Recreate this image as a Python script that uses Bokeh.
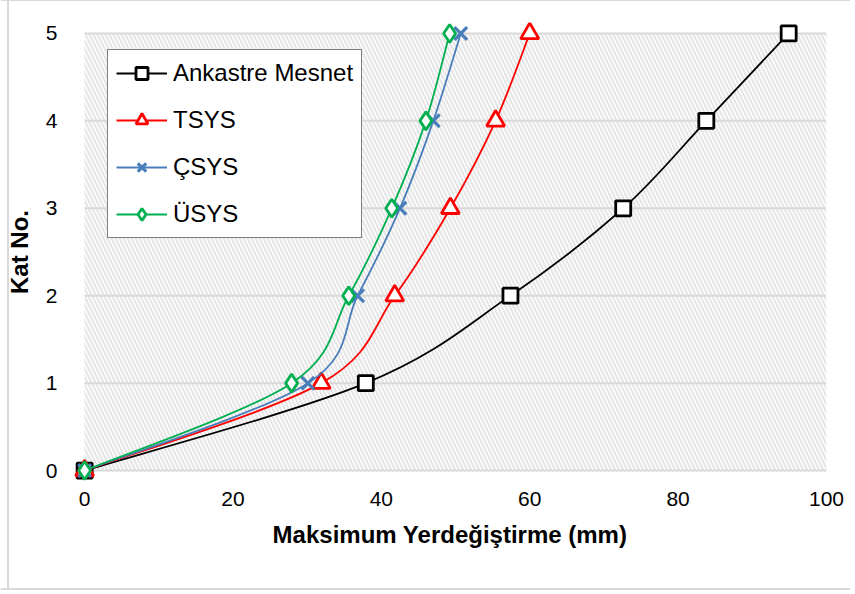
import numpy as np
from bokeh.plotting import figure
from bokeh.models import Range1d, Legend, LegendItem, BoxAnnotation, FixedTicker, ColumnDataSource
from bokeh.embed import file_html
from bokeh.resources import INLINE

# ---- data ----
floors = [0, 1, 2, 3, 4, 5]
ankastre = [0, 37.9, 57.4, 72.6, 83.8, 94.9]
tsys = [0, 31.9, 41.8, 49.3, 55.4, 60.0]
csys = [0, 30.1, 36.8, 42.5, 47.0, 50.7]
usys = [0, 27.9, 35.6, 41.4, 46.0, 49.2]
series_names = ["Ankastre Mesnet", "TSYS", "ÇSYS", "ÜSYS"]
x_ticks = [0, 20, 40, 60, 80, 100]
y_ticks = [0, 1, 2, 3, 4, 5]

FONT = "Liberation Sans"
GRID = "#d9d9d9"

# ranges padded a little so the markers at the edges are not clipped
p = figure(width=850, height=590, output_backend="svg", toolbar_location=None,
           x_range=Range1d(x_ticks[0] - 1.5, x_ticks[-1]),
           y_range=Range1d(y_ticks[0] - 0.125, y_ticks[-1] + 0.125),
           min_border_left=71, min_border_right=26, min_border_top=21, min_border_bottom=110)
p.border_fill_alpha = 0
p.styles = {"border-left": "2px solid transparent", "border-bottom": "2px solid " + GRID,
            "border-top": "1px solid " + GRID,
            "background": "linear-gradient(to right, white 5px, #d9d9d9 5px, #d9d9d9 7px, white 7px)"}
p.outline_line_color = None
p.background_fill_alpha = 0

# hatched plot area
p.add_layout(BoxAnnotation(left=x_ticks[0], right=x_ticks[-1], bottom=y_ticks[0], top=y_ticks[-1],
                           fill_color="white", fill_alpha=1, line_color=None, hatch_pattern="\\",
                           hatch_color="#e6e6e6", hatch_scale=8, hatch_weight=2.2,
                           level="underlay"))

p.xgrid.grid_line_color = None
p.ygrid.grid_line_color = None
# horizontal gridlines only across the plot area
p.segment(x0=[x_ticks[0]] * len(y_ticks), x1=[x_ticks[-1]] * len(y_ticks),
          y0=y_ticks, y1=y_ticks, line_color=GRID, line_width=2)

for ax in (p.xaxis[0], p.yaxis[0]):
    ax.axis_line_color = None
    ax.major_tick_line_color = None
    ax.minor_tick_line_color = None
    ax.major_label_text_font = FONT
    ax.major_label_text_font_size = "21px"
    ax.major_label_text_color = "black"
    ax.axis_label_text_font = FONT
    ax.axis_label_text_font_size = "24px"
    ax.axis_label_text_font_style = "bold"
    ax.axis_label_text_color = "black"

p.xaxis.ticker = FixedTicker(ticks=x_ticks)
p.yaxis.ticker = FixedTicker(ticks=y_ticks)
p.xaxis.major_label_standoff = 4
p.yaxis.major_label_standoff = 10
p.xaxis.axis_label = "Maksimum Yerdeğiştirme (mm)"
p.yaxis.axis_label = "Kat No."
p.xaxis.axis_label_standoff = 12
p.yaxis.axis_label_standoff = 10


def bezier_segments(xs, ys):
    pts = np.column_stack([xs, ys]).astype(float)
    n = len(pts)
    d = dict(x0=[], y0=[], x1=[], y1=[], cx0=[], cy0=[], cx1=[], cy1=[])
    for i in range(n - 1):
        p0 = pts[i - 1] if i > 0 else pts[i]
        p1 = pts[i]
        p2 = pts[i + 1]
        p3 = pts[i + 2] if i + 2 < n else pts[i + 1]
        c0 = p1 + (p2 - p0) / 6.0
        c1 = p2 - (p3 - p1) / 6.0
        d["x0"].append(p1[0]); d["y0"].append(p1[1])
        d["x1"].append(p2[0]); d["y1"].append(p2[1])
        d["cx0"].append(c0[0]); d["cy0"].append(c0[1])
        d["cx1"].append(c1[0]); d["cy1"].append(c1[1])
    return ColumnDataSource(d)


styles = [
    (ankastre, "black", "square", 15, 2.8),
    (tsys, "#ff0000", "triangle", 18, 2.8),
    (csys, "#4a7ebb", "x", 18, 3.2),
    (usys, "#00b050", "diamond", 18, 2.8),
]

items = []
for name, (xs, color, marker, size, lw) in zip(series_names, styles):
    bz = p.bezier(x0="x0", y0="y0", x1="x1", y1="y1", cx0="cx0", cy0="cy0",
                  cx1="cx1", cy1="cy1", source=bezier_segments(xs, floors),
                  line_color=color, line_width=1.8)
    sc = p.scatter(xs, floors, marker=marker, size=size,
                   line_color=color, line_width=lw, fill_color="white")
    items.append(LegendItem(label=name, renderers=[bz, sc]))

legend = Legend(items=items, location=(34, 243), padding=8, spacing=17,
                glyph_width=51, glyph_height=30, label_standoff=6, label_height=30,
                label_text_font=FONT, label_text_font_size="24px",
                label_text_color="black", border_line_color="black",
                border_line_width=1.5, background_fill_color="white",
                background_fill_alpha=1, margin=0)
p.add_layout(legend)

open("out.html", "w").write(file_html(p, INLINE))
